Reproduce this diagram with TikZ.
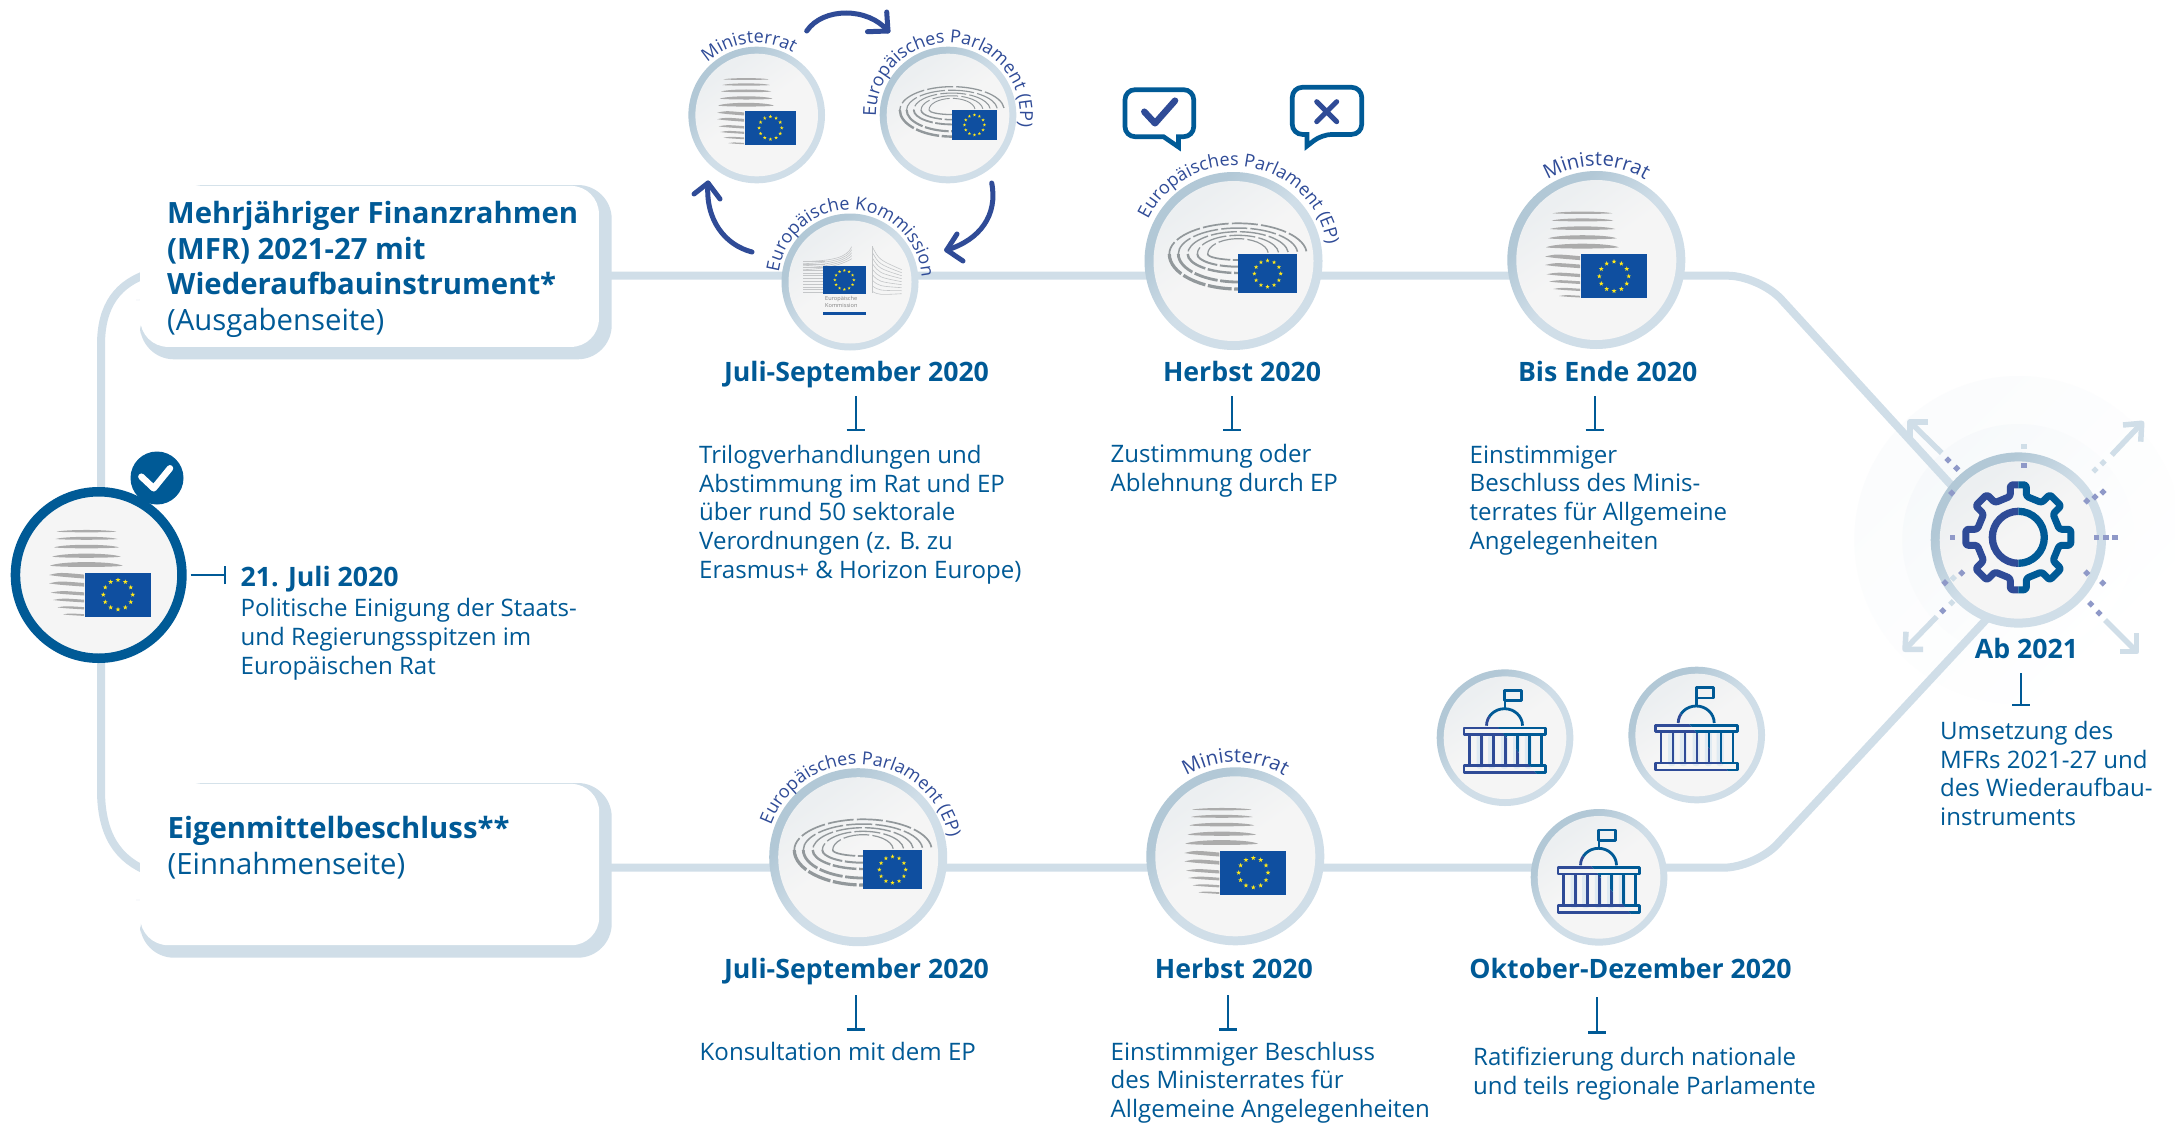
\documentclass[tikz,border=0pt]{standalone}
\usepackage{fontspec}
\setmainfont{Open Sans}
\usetikzlibrary{decorations.text,calc}
\definecolor{tblue}{HTML}{005A96}
\definecolor{arcblue}{HTML}{2F4B97}
\definecolor{ringcol}{HTML}{D0DEE8}
\definecolor{ringdark}{HTML}{B2C8D6}
\definecolor{discfill}{HTML}{F5F5F5}
\definecolor{discdark}{HTML}{ECEFF1}
\definecolor{flagblue}{HTML}{0F4FA0}
\definecolor{staryel}{HTML}{FFE81A}
\definecolor{stripegray}{HTML}{ABABAB}
\definecolor{parlgray}{HTML}{92989B}
\definecolor{ecgray}{HTML}{C4C6C8}
\definecolor{dotcol}{HTML}{8F99C8}
\definecolor{palestripe}{HTML}{DFEAF2}
\pgfdeclareverticalshading{ringsh}{100bp}{color(0bp)=(ringcol); color(50bp)=(ringcol); color(68bp)=(ringdark); color(100bp)=(ringdark)}
\pgfdeclareverticalshading{discsh}{100bp}{color(0bp)=(discfill); color(52bp)=(discfill); color(72bp)=(discdark); color(100bp)=(discdark)}
\tikzset{
  timeline/.style={draw=ringcol,line width=8pt},
  ringout/.style={circle,inner sep=0pt,outer sep=0pt,shade,shading=ringsh,shading angle=45},
  ringin/.style={circle,inner sep=0pt,outer sep=0pt,shade,shading=discsh,shading angle=35},
  bodytext/.style={anchor=base west,align=left,inner sep=0pt,text=tblue,font=\fontsize{24.05}{28.75}\selectfont},
  headtext/.style={anchor=base,inner sep=0pt,text=tblue,font=\fontsize{26.7}{30}\selectfont\bfseries},
  boxtext/.style={anchor=base west,align=left,inner sep=0pt,text=tblue,font=\fontsize{29.3}{35.5}\selectfont},
  tstem/.style={draw=tblue,line width=1.9pt},
  tbar/.style={draw=tblue,line width=2.6pt},
  cyc/.style={draw=arcblue,line width=5pt,line cap=round,line join=round},
  pale/.style={draw=ringcol,line width=5.5pt,line join=round},
  bubble/.style={draw=tblue,line width=4.7pt,line join=miter},
  bld/.style={line width=2.8pt,line join=round},
  gearline/.style={line width=7pt,line join=round,rounded corners=2.5pt},
}
\newcommand\euflag[3]{\begin{scope}[shift={(#1,#2)},scale=#3]
  \fill[flagblue] (0,0) rectangle (66,44);
  \foreach \a in {0,30,...,330}{\begin{scope}[shift={(33,22)},shift={(\a:14.7)}]
    \fill[staryel] (-90:2.5)--(-54:1)--(-18:2.5)--(18:1)--(54:2.5)--(90:1)--(126:2.5)--(162:1)--(198:2.5)--(234:1)--cycle;
  \end{scope}}
\end{scope}}
\newcommand\councilicon[3]{\begin{scope}[shift={(#1,#2)},scale=#3]
  \foreach \p/\q/\y/\t in {-28.3/31.3/-41/2.3,-29.3/32.3/-33.7/2.9,-31/34/-25.3/3.5,-32.7/35.7/-16/4.1,-35/37.7/-7/4.8}{
    \fill[stripegray] (\p,\y) .. controls ({\p+.15*(\q-\p)},{\y-\t}) and ({\q-.15*(\q-\p)},{\y-\t}) .. (\q,\y) .. controls ({\q-.15*(\q-\p)},{\y+.35*\t}) and ({\p+.15*(\q-\p)},{\y+.35*\t}) .. cycle;}
  \foreach \p/\y/\t in {-36/2.3/4.4,-36/10.7/4,-34.3/20/3.5,-32/27.3/3,-27.7/34.7/2.5,-22/41.7/1.9}{
    \fill[stripegray] (\p,\y) .. controls ({\p+.3*(-1-\p)},{\y-.6*\t}) .. (-1,{\y-0.1*\t}) -- (-1,{\y+0.8*\t}) .. controls ({\p+.3*(-1-\p)},{\y+0.35*\t}) .. cycle;}
\end{scope}\euflag{#1}{#2}{#3}}
\newcommand\parlicon[3]{\begin{scope}[shift={(#1,#2)},scale=#3]
  \foreach \rx/\rt/\rb/\w/\u in {68.7/30.7/35/3.2/1.7,59.7/26/28/2.8/1.5,50.3/22.3/19/2.4/1.4,40.7/18.7/12.7/2.0/1.3,30.3/15.3/6/1.7/1.2}{
    \pgfmathsetmacro\lw{\w*#3}\pgfmathsetmacro\lu{\u*#3}
    \draw[parlgray,line width=\lu pt,dash pattern=on 26pt off 3.2pt] (-5:{\rx} and {\rt}) arc[start angle=-5,end angle=-180,x radius=\rx,y radius=\rt];
    \draw[parlgray,line width=\lw pt,dash pattern=on 24pt off 2.6pt] (-\rx,0) arc[start angle=180,end angle=90,x radius=\rx,y radius=\rb];}
\end{scope}\euflag{#1}{#2}{#3*0.894}}
\newcommand\ecicon[2]{\begin{scope}[shift={(#1,#2)}]
  \foreach \y in {-4,-1.2,...,27.7}{\draw[ecgray,line width=.6pt] (-20,\y) -- (2,\y);}
  \foreach \d in {0,2,4,6,8}{\draw[ecgray,line width=.6pt] (-20,{-4+\d}) .. controls (10,{-5+\d}) and (24,{-8+\d*.5}) .. (28.7,{-19+\d*1.5});}
  \draw[ecgray,line width=.6pt] (49.3,-19.7) -- (49.3,27.7);
  \foreach \i in {0,...,8}{\draw[ecgray,line width=.6pt] (49.3,{-19+\i*5.6}) .. controls (56,{-6+\i*4.4}) .. (78.7,{4+\i*3});}
  \node[anchor=base west,inner sep=0pt,align=left,text=gray,font=\fontsize{5.6}{7}\selectfont] (ectext) at (2,42) {Europäische\\Kommission};
  \fill[flagblue] (0,46.7) rectangle (42.7,49.3);
\end{scope}\euflag{#1}{#2}{0.647}}
\newcommand\bldparts{%
  \draw[bld] (-0.4,-47.4) rectangle (16.4,-37);
  \draw[bld] (0,-47.4) -- (0,-29);
  \draw[bld] (-18.5,-12) arc[start angle=-180,end angle=0,x radius=18,y radius=17];
  \draw[bld] (-41,-9.7) rectangle (40.4,-3.3);
  \draw[bld] (-41,28) rectangle (40.4,35);
  \foreach \x in {-35.7,-23.7,-11.7,0.3,12.3,24.3,36.3}{\draw[bld] (\x,-3.3) -- (\x,28);}}
\newcommand\bldicon[2]{\begin{scope}[shift={(#1,#2)}]
  \foreach \x in {-25,-13.3,-0.7,11.7,23.3}{\fill[palestripe,rounded corners=2.5pt] (\x-3.5,-3) rectangle (\x+3.5,31);}
  \begin{scope}\clip (-48,-60)--(43,50)--(-60,50)--(-60,-60)--cycle;\begin{scope}[arcblue]\bldparts\end{scope}\end{scope}
  \begin{scope}\clip (-48,-60)--(43,50)--(60,50)--(60,-60)--cycle;\begin{scope}[tblue]\bldparts\end{scope}\end{scope}
\end{scope}}
% name, x, y, outer radius, ring width
\newcommand\ringnode[5]{%
  \node[ringout,minimum size={2*#4}] (#1) at (#2,#3) {};
  \node[ringin,minimum size={2*(#4-#5)}] (#1-in) at (#2,#3) {};}
% [size] cx, cy, r, middle angle (drawn), half span, text
\newcommand\arclabel[7][18]{\path[decorate,decoration={text along path,text align=center,text={|\fontsize{#1}{20}\selectfont\color{arcblue}|#7}}]
  ([shift={(-#5-#6:#4)}]#2,#3) arc[start angle={-#5-#6},end angle={-#5+#6},radius=#4];}
\newcommand\tmarkv[4]{%
  \coordinate (#1-a) at (#2,#3); \coordinate (#1-b) at (#2,#4);
  \draw[tstem] (#1-a) -- (#1-b); \draw[tbar] ([xshift=-9pt]#1-b) -- ([xshift=9pt]#1-b);}
\newcommand\sq[4]{\fill[#4,rotate around={#3:(#1,#2)}] ({#1-2.6},{#2-2.6}) rectangle ({#1+2.6},{#2+2.6});}
\newcommand\gearpath{([rotate=0]-8,-52.5) \foreach \a in {0,45,...,270}{ -- ([rotate=-\a]8,-52.5) -- ([rotate=-\a]8,-41) -- ([rotate=-\a-45]-8,-41) -- ([rotate=-\a-45]-8,-52.5)} -- ([rotate=-315]8,-52.5) -- ([rotate=-315]8,-41) -- (-8,-41) -- cycle}
\begin{document}
\begin{tikzpicture}[x=1pt,y=-1pt]
\useasboundingbox (0,0) rectangle (2175,1124);
\fill[white] (0,0) rectangle (2175,1124);
% halos
\shade[top color=ringcol!9,bottom color=white,shading angle=45] (2018.3,540) circle[radius=164];
\shade[top color=ringcol!18,bottom color=white,shading angle=45] (2018.3,540) circle[radius=116];
% named ends of the time lines
\coordinate (lt) at (150,273); \coordinate (lb) at (150,872);
\coordinate (topL) at (600,275.7); \coordinate (topK) at (1759.6,275.7); \coordinate (topG) at (1960,494.8);
\coordinate (botL) at (600,867.7); \coordinate (botK) at (1755.4,867.7); \coordinate (botG) at (1995,610);
\draw[timeline] (lt) .. controls (118,283) and (101,305) .. (101,345) -- (101,790) .. controls (101,835) and (118,860) .. (lb);
\draw[timeline,rounded corners=32pt] (topL) -- (topK) -- (topG);
\draw[timeline,rounded corners=32pt] (botL) -- (botK) -- (botG);
% boxes
\fill[ringcol,rounded corners=34pt] (170,185) -- (611.7,185) -- (611.7,359.3) -- (140,359.3) -- (140,300) -- (170,300) -- cycle;
\fill[ringcol,rounded corners=34pt] (170,783) -- (611.7,783) -- (611.7,957.7) -- (140,957.7) -- (140,900) -- (170,900) -- cycle;
\node[fill=white,rounded corners=28pt,inner sep=0pt,minimum width=458.7pt,minimum height=161pt,anchor=north west] (box1) at (140,185.7) {};
\node[fill=white,rounded corners=28pt,inner sep=0pt,minimum width=459pt,minimum height=161.3pt,anchor=north west] (box2) at (140,783.7) {};
\node[boxtext] (box1t) at (167,330.3) {\textbf{Mehrjähriger Finanzrahmen}\\\textbf{(MFR) 2021-27 mit}\\\textbf{Wiederaufbauinstrument*}\\(Ausgabenseite)};
\node[boxtext] (box2t) at (167.5,874) {\textbf{Eigenmittelbeschluss**}\\(Einnahmenseite)};
% left circle
\node[circle,fill=tblue,minimum size=53pt,inner sep=0pt] (badge) at (157,478) {};
\draw[white,line width=6.5pt,line cap=round,line join=round] (141.4,476.7) -- (153.7,488.3) -- (170,468.3);
\node[circle,fill=discfill,draw=tblue,line width=9.5pt,minimum size=166.5pt,inner sep=0pt,outer sep=0pt] (council) at (98.7,575) {};
\councilicon{85}{572.7}{1}
\coordinate (jl) at (225,575); \coordinate (jl0) at (190.6,575);
\draw[tstem] (jl0) -- (jl); \draw[tbar] ([yshift=-9pt]jl) -- ([yshift=9pt]jl);
\node[anchor=base west,inner sep=0pt,text=tblue,font=\fontsize{26.7}{30}\selectfont\bfseries] (jt) at (240.5,586.6) {21. Juli 2020};
\node[bodytext] (jb) at (240.5,674.3) {Politische Einigung der Staats-\\und Regierungsspitzen im\\Europäischen Rat};
% cycle
\ringnode{mr}{756.7}{115}{68.3}{7}
\ringnode{epa}{948}{115}{68.3}{7}
\ringnode{ec}{850}{282}{68.5}{7}
\councilicon{745}{111}{0.77}
\parlicon{952}{110}{0.76}
\ecicon{823}{265.7}
\arclabel{756.7}{115}{72}{96.5}{70}{Ministerrat}
\arclabel{948}{115}{72}{86}{125}{Europäisches Parlament (EP)}
\arclabel{850}{282}{72}{88}{110}{Europäische Kommission}
\coordinate (c1a) at (806.7,31); \coordinate (c1b) at (888,31);
\coordinate (c2a) at (991.7,183); \coordinate (c2b) at (946.7,250);
\coordinate (c3a) at (752,252); \coordinate (c3b) at (708,183);
\draw[cyc] (c1a) .. controls (823,7) and (868,7) .. (c1b);
\draw[cyc] (886.7,12) -- (c1b) -- (867.5,31.7);
\draw[cyc] (c2a) .. controls (998,215) and (980,240) .. (c2b);
\draw[cyc] (957,234) -- (c2b) -- (963,261);
\draw[cyc] (c3a) .. controls (725,245) and (705,220) .. (c3b);
\draw[cyc] (694,194) -- (c3b) -- (720,199);
\node[headtext] (h1) at (856.5,381.7) {Juli-September 2020};
\tmarkv{t1}{855.7}{396}{430}
\node[bodytext] (b1) at (699,578.4) {Trilogverhandlungen und\\Abstimmung im Rat und EP\\über rund 50 sektorale\\Verordnungen (z. B. zu\\Erasmus+ \& Horizon Europe)};
% EP top
\ringnode{epb}{1233.5}{261}{89}{9}
\parlicon{1238}{254}{1}
\arclabel{1233.5}{261}{95}{82}{125}{Europäisches Parlament (EP)}
\draw[bubble] [rounded corners=10pt] (1125,110) -- (1125,89.7) -- (1193.7,89.7) -- (1193.7,136.7) [sharp corners] -- (1178.5,136.7) -- (1178.5,147) -- (1163.5,136.7) [rounded corners=10pt] -- (1125,136.7) -- cycle;
\draw[bubble] [rounded corners=10pt] (1292.3,110) -- (1292.3,87.3) -- (1361.7,87.3) -- (1361.7,134.4) -- (1322,134.4) [sharp corners] -- (1307,146) -- (1307,134.4) [rounded corners=10pt] -- (1292.3,134.4) -- cycle;
\draw[arcblue,line width=6.5pt,line cap=round,line join=round] (1144.3,111.7) -- (1155,123.3) -- (1175,100.7);
\draw[arcblue,line width=5pt,line cap=round] (1316.7,101.7) -- (1336.7,121.7) (1336.7,101.7) -- (1316.7,121.7);
\node[headtext] (h2) at (1242,381.7) {Herbst 2020};
\tmarkv{t2}{1232}{396}{430}
\node[bodytext] (b2) at (1110.5,491.4) {Zustimmung oder\\Ablehnung durch EP};
% Ministerrat top
\ringnode{mrb}{1596.3}{260}{89}{9}
\councilicon{1581}{254.3}{1}
\arclabel[20]{1596.3}{260}{94}{90}{70}{Ministerrat}
\node[headtext] (h3) at (1607.7,381.7) {Bis Ende 2020};
\tmarkv{t3}{1594.7}{396}{430}
\node[bodytext] (b3) at (1469.5,549.3) {Einstimmiger\\Beschluss des Minis-\\terrates für Allgemeine\\Angelegenheiten};
% gear
\ringnode{gear}{2018.3}{540}{87.6}{9}
\begin{scope}[shift={(2018.3,537.3)}]
  \begin{scope}\clip (-70,-70) rectangle (0,70);
    \draw[gearline,arcblue] \gearpath;
    \draw[arcblue,line width=7.3pt] (0,0) circle[radius=26];
  \end{scope}
  \begin{scope}\clip (0,-70) rectangle (70,70);
    \draw[gearline,tblue] \gearpath;
    \draw[tblue,line width=7.3pt] (0,0) circle[radius=26];
  \end{scope}
\end{scope}
\coordinate (atl) at (1910,422); \coordinate (atr) at (2141.7,423.3); \coordinate (abr) at (2136.7,651.7); \coordinate (abl) at (1905,649.3);
\draw[pale] (1928,422) -- (atl) -- (1910,440); \draw[pale] (atl) -- (1941.7,453);
\draw[pale] (2123,425) -- (atr) -- (2140.7,441.7); \draw[pale] (atr) -- (2111.7,455);
\draw[pale] (2120,651.7) -- (abr) -- (2136.7,633); \draw[pale] (abr) -- (2105,620);
\draw[pale] (1923,649.3) -- (abl) -- (1906,631.7); \draw[pale] (abl) -- (1936.7,616.7);
\foreach \x/\y in {1948/460,1956.7/468.3,1951.7/493,2103/492,2095/497,2086.7/501,2099/613,2090.7/604,2102.7/583,2086.7/573,1942.7/610.7,1945/582.7,1961.7/573}{\sq{\x}{\y}{45}{dotcol}}
\foreach \x/\y in {2024/465.3,2096.7/537.3,2106/537.3,2115/537.3,1952.3/537.3}{\sq{\x}{\y}{0}{dotcol}}
\foreach \x/\y in {2103/462.7,2095/470,2094/578,1951.7/602.7,1953.3/578}{\sq{\x}{\y}{45}{ringcol}}
\sq{2024}{446.7}{0}{ringcol}
\node[headtext] (h4) at (2026.5,658.3) {Ab 2021};
\tmarkv{t4}{2021}{673}{705}
\node[bodytext] (b4) at (1940,825.7) {Umsetzung des\\MFRs 2021-27 und\\des Wiederaufbau-\\instruments};
% bottom row
\ringnode{epc}{858.2}{857.2}{89}{9}
\parlicon{863}{850}{1}
\arclabel{858.2}{857.2}{93}{86}{125}{Europäisches Parlament (EP)}
\node[headtext] (h5) at (856.5,978.3) {Juli-September 2020};
\tmarkv{t5}{855.7}{995}{1029.7}
\node[bodytext] (b5) at (699.5,1060) {Konsultation mit dem EP};
\ringnode{mrc}{1235.3}{856.3}{89}{9}
\councilicon{1220.3}{850.7}{1}
\arclabel[20]{1235.3}{856.3}{94}{90}{70}{Ministerrat}
\node[headtext] (h6) at (1233.8,978.3) {Herbst 2020};
\tmarkv{t6}{1228}{995}{1029.7}
\node[bodytext] (b6) at (1110.5,1117.5) {Einstimmiger Beschluss\\des Ministerrates für\\Allgemeine Angelegenheiten};
\ringnode{pa}{1505}{737.7}{68.3}{7}
\ringnode{pb}{1696.7}{735}{68.3}{7}
\ringnode{pc}{1599}{877.3}{68.3}{7}
\bldicon{1505}{737.7}
\bldicon{1696.7}{735}
\bldicon{1599}{877.3}
\node[headtext] (h7) at (1630.5,978.3) {Oktober-Dezember 2020};
\tmarkv{t7}{1597}{997.3}{1032.7}
\node[bodytext] (b7) at (1473,1094.7) {Ratifizierung durch nationale\\und teils regionale Parlamente};
\end{tikzpicture}
\end{document}
